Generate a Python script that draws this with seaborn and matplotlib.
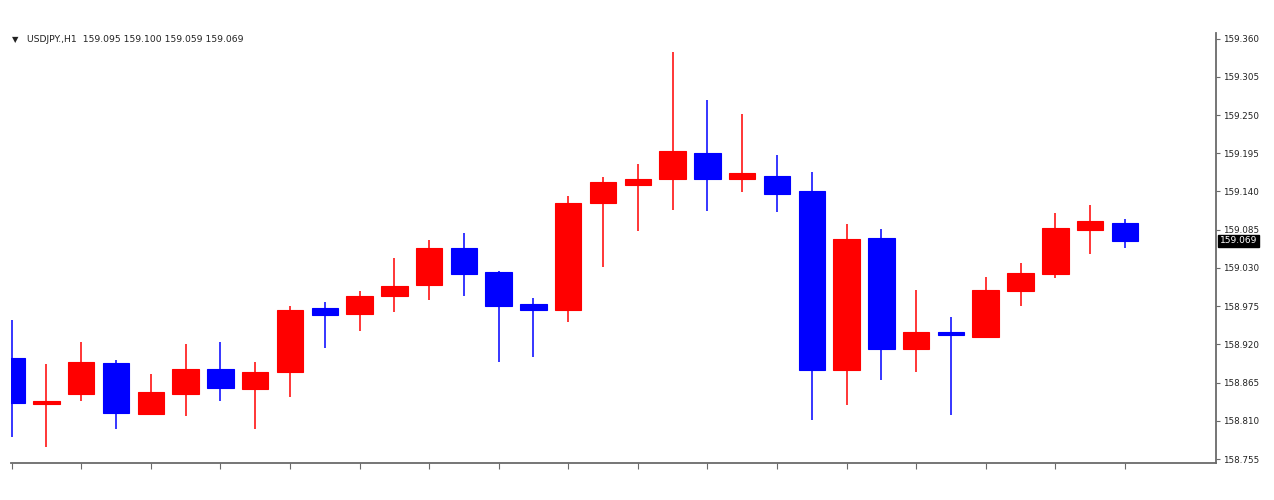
import matplotlib
matplotlib.use("Agg")
import matplotlib.pyplot as plt
import seaborn as sns
import pandas as pd

# ---- data (USDJPY H1 candles) ----
opens  = [158.901, 158.834, 158.848, 158.893, 158.820, 158.848, 158.884, 158.856,
          158.880, 158.972, 158.964, 158.990, 159.005, 159.059, 159.024, 158.978,
          158.969, 159.123, 159.150, 159.158, 159.196, 159.158, 159.162, 159.140,
          158.883, 159.073, 158.914, 158.938, 158.930, 158.997, 159.022, 159.084,
          159.095]
highs  = [158.955, 158.892, 158.923, 158.898, 158.878, 158.920, 158.923, 158.895,
          158.975, 158.981, 158.997, 159.045, 159.070, 159.081, 159.026, 158.987,
          159.133, 159.161, 159.179, 159.340, 159.271, 159.251, 159.193, 159.168,
          159.093, 159.086, 158.998, 158.959, 159.017, 159.037, 159.109, 159.120,
          159.100]
lows   = [158.787, 158.772, 158.838, 158.799, 158.820, 158.817, 158.839, 158.799,
          158.845, 158.915, 158.939, 158.967, 158.984, 158.990, 158.895, 158.902,
          158.952, 159.032, 159.083, 159.114, 159.112, 159.139, 159.110, 158.812,
          158.833, 158.869, 158.880, 158.819, 158.930, 158.976, 159.015, 159.050,
          159.059]
closes = [158.836, 158.839, 158.895, 158.822, 158.851, 158.885, 158.858, 158.881,
          158.970, 158.962, 158.990, 159.004, 159.059, 159.022, 158.975, 158.969,
          159.123, 159.153, 159.158, 159.198, 159.158, 159.167, 159.137, 158.883,
          159.071, 158.913, 158.938, 158.933, 158.998, 159.023, 159.087, 159.097,
          159.069]

price_ticks = [158.755, 158.810, 158.865, 158.920, 158.975, 159.030,
               159.085, 159.140, 159.195, 159.250, 159.305, 159.360]
price_labels = ["158.755", "158.810", "158.865", "158.920", "158.975", "159.030",
                "159.085", "159.140", "159.195", "159.250", "159.305", "159.360"]
title_text = "USDJPY.,H1  159.095 159.100 159.059 159.069"
last_price_label = "159.069"

df = pd.DataFrame({"open": opens, "high": highs, "low": lows, "close": closes})
df["idx"] = range(len(df))
df["bull"] = df["close"] >= df["open"]

UP = "#FF0000"
DOWN = "#0000FF"
AXC = "#6a6a6a"

sns.set_theme(style="white")
plt.rcParams["font.family"] = ["DejaVu Sans"]

fig = plt.figure(figsize=(12.74, 5.0), dpi=100)
ax = fig.add_axes([11 / 1274, 36.7 / 500, (1216 - 11) / 1274, (463.3 - 33) / 500])

colors = [UP if b else DOWN for b in df["bull"]]

# wicks
ax.vlines(df["idx"], df["low"], df["high"], colors=colors, linewidth=1.1, zorder=2)
# bodies
body_bottom = df[["open", "close"]].min(axis=1)
body_h = (df["open"] - df["close"]).abs()
ax.bar(df["idx"], body_h, bottom=body_bottom, width=0.76, color=colors,
       edgecolor=colors, linewidth=0.8, zorder=3)

ax.set_xlim(-0.02, 34.62)
ax.set_ylim(158.749, 159.368)

sns.despine(ax=ax, left=True, top=True, right=False, bottom=False)
for s in ("right", "bottom"):
    ax.spines[s].set_color(AXC)
    ax.spines[s].set_linewidth(1.3)

ax.yaxis.tick_right()
ax.set_yticks(price_ticks)
ax.set_yticklabels(price_labels)
ax.tick_params(axis="y", which="both", right=True, left=False, direction="out",
               length=3, width=0.8, color=AXC, pad=2, labelsize=6.3, labelcolor="#222222")
ax.set_xticks(df["idx"][::2])
ax.set_xticklabels([])
ax.tick_params(axis="x", bottom=True, direction="out", length=4, width=0.8, color=AXC)
ax.grid(False)

# title / info text
ax.text(0.0012, 0.9855, "\u25bc", transform=ax.transAxes, fontsize=6, va="center",
        ha="left", color="#222222")
ax.text(0.0132, 0.9855, title_text, transform=ax.transAxes, fontsize=6.7, va="center",
        ha="left", color="#222222")

# current price box
ax.annotate(last_price_label, xy=(1.0, closes[-1]), xycoords=("axes fraction", "data"),
            xytext=(3.0, 0), textcoords="offset points", ha="left", va="center",
            fontsize=6.5, color="white",
            bbox=dict(boxstyle="square,pad=0.2", fc="black", ec="black"),
            annotation_clip=False)

fig.savefig("out.png", dpi=100, facecolor="white")
